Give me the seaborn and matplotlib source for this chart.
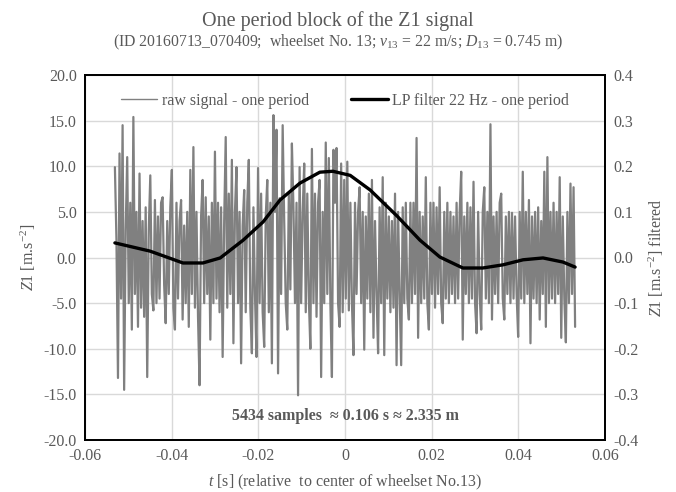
import numpy as np
import pandas as pd
import seaborn as sns
import matplotlib.pyplot as plt
from matplotlib.ticker import FuncFormatter, MultipleLocator

# raw Z1 samples (evenly spaced in time)
raw_t_start = -0.0531
raw_t_end = 0.0531
raw_values = [
    9.9, 2.0, -13.2, 11.4, -4.5, 14.5, -14.5, 3.0, 11.0, -5.0, 6.0, -7.9, 15.4, -4.0, 5.0, -7.6, 9.2, -5.5, 4.0, -6.5,
    5.5, -13.1, 3.0, 9.0, -4.0, -5.8, 6.3, -5.0, 4.5, -4.5, 6.0, 6.6, -3.0, -7.2, 4.0, -4.0, 5.5, 9.6, -5.5, -7.9,
    6.0, -4.5, 4.0, 6.3, -6.8, 3.5, -5.0, 5.0, -7.6, 9.6, -4.0, 12.1, -5.5, 5.0, -6.5, -14.0, 4.5, 8.5, -5.0, 6.6,
    -4.0, 4.5, -9.0, 6.0, -5.0, 11.6, -4.5, 6.0, -6.0, 5.5, -10.9, 4.0, 13.2, -5.5, 7.0, -4.0, 10.7, -9.4, 5.0, 9.9,
    -5.0, 5.0, -11.6, 3.5, 7.4, -6.0, 6.0, 10.7, -5.5, -10.5, 5.5, -4.0, -10.9, 9.8, -5.0, 7.0, -6.0, -9.8, 4.5, 8.5,
    -6.0, 6.0, -11.6, 15.6, 5.0, 14.0, -12.7, 6.5, -4.0, 14.5, 4.0, -5.0, -7.9, 7.0, -3.5, 12.5, 5.5, -5.0, 6.0, -15.1,
    9.9, -5.0, 5.0, 10.3, -6.0, 7.0, -4.5, -10.0, 11.9, -5.0, 7.0, -6.5, 6.0, 8.5, -13.1, 5.0, -5.0, 12.6, -4.0, 10.9,
    -5.0, -13.1, 11.8, 6.0, 12.0, -5.0, -7.6, 10.3, -6.0, 8.5, -4.5, 10.5, -5.8, 6.0, -5.0, -10.7, 6.0, -4.0, 5.0, 7.7,
    -5.0, 5.0, -10.1, 4.5, -4.5, 7.0, -6.0, 8.5, -8.8, 4.0, -4.0, -10.5, 5.5, -5.0, 8.8, -10.7, 6.0, -4.5, 4.5, -6.0,
    4.0, -5.5, 7.0, -11.8, 5.0, -4.0, -11.8, 5.5, -5.0, 6.0, -4.5, -6.8, 6.0, -5.0, 6.0, -4.0, 13.1, -8.8, 5.0, -5.0,
    4.5, -4.5, 8.8, -5.0, -7.9, 6.0, -4.0, 6.0, -5.5, 5.5, -4.0, 7.7, -5.0, -7.2, 5.0, -4.5, 6.0, -5.0, 5.0, -4.0,
    4.5, -5.0, 6.0, -4.5, 5.0, 9.4, -9.0, 4.5, -4.0, 6.0, -5.0, 5.5, -4.5, 8.3, -5.0, -8.3, 5.0, -4.0, -7.9, 5.0,
    7.7, -4.5, 5.0, -5.0, 14.6, -6.8, 4.5, -4.0, 5.0, -5.0, 6.0, 7.0, -4.5, -6.8, 4.5, -4.0, 5.0, -5.0, 4.9, -4.5,
    4.5, -4.0, -8.7, 5.0, -4.5, 9.4, -5.0, 5.0, -4.0, 6.3, -9.4, 4.5, -4.5, 5.0, -5.0, 5.5, -6.8, 4.0, -4.0, 9.4,
    -7.6, 11.0, -5.0, 5.0, -4.5, 6.0, -5.0, 5.0, -4.0, 8.8, -8.8, 4.5, -4.5, -9.3, 5.0, -5.0, 8.1, -4.0, 7.7, -7.6,
]

# low-pass filtered curve (right axis)
filt_t = [-0.0531, -0.045, -0.040, -0.0374, -0.0328, -0.0288, -0.0235, -0.0189, -0.015,
          -0.0104, -0.0058, -0.0028, 0.0012, 0.0058, 0.012, 0.0173, 0.0219, 0.0272,
          0.0318, 0.0365, 0.0411, 0.0457, 0.0503, 0.0531]
filt_values = [0.032, 0.014, -0.003, -0.012, -0.012, -0.001, 0.038, 0.078, 0.126,
               0.163, 0.187, 0.189, 0.180, 0.148, 0.091, 0.038, 0.001, -0.023,
               -0.023, -0.016, -0.005, -0.001, -0.010, -0.021]

raw = pd.DataFrame({'t': np.linspace(raw_t_start, raw_t_end, len(raw_values)), 'z': raw_values})
filt = pd.DataFrame({'t': filt_t, 'z': filt_values})

sns.set_theme(style='whitegrid')
plt.rcParams['font.family'] = ['Liberation Serif', 'DejaVu Serif']
plt.rcParams['mathtext.fontset'] = 'custom'
plt.rcParams['mathtext.rm'] = 'Liberation Serif'
plt.rcParams['mathtext.it'] = 'Liberation Serif:italic'
txt = '#595959'

fig = plt.figure(figsize=(6.76, 4.92), dpi=100)
ax = fig.add_axes([85 / 676, 52 / 492, 520 / 676, 365 / 492])
ax2 = ax.twinx()

sns.lineplot(data=raw, x='t', y='z', ax=ax, color='#808080', lw=1.6,
             estimator=None, sort=False, label='raw signal - one period', legend=False)
sns.lineplot(data=filt, x='t', y='z', ax=ax2, color='black', lw=2.4,
             estimator=None, sort=False, label='LP filter 22 Hz - one period', legend=False)

ax.set_xlim(-0.06, 0.06)
ax.set_ylim(-20, 20)
ax2.set_ylim(-0.4, 0.4)
ax.xaxis.set_major_locator(MultipleLocator(0.02))
ax.yaxis.set_major_locator(MultipleLocator(5))
ax2.yaxis.set_major_locator(MultipleLocator(0.1))
ax.xaxis.set_major_formatter(FuncFormatter(lambda v, p: '0' if abs(v) < 1e-9 else f'{v:.2f}'))
ax.yaxis.set_major_formatter(FuncFormatter(lambda v, p: f'{v:.1f}'))
ax2.yaxis.set_major_formatter(FuncFormatter(lambda v, p: f'{v:.1f}'))

ax.grid(True, color='#d9d9d9', lw=1)
ax2.grid(False)
for a in (ax, ax2):
    a.tick_params(length=0, labelsize=11.5, labelcolor=txt, pad=6)
    for s in a.spines.values():
        s.set_color('black')
        s.set_linewidth(1.3)

ax.set_xlabel(r'$\mathit{t}$ [s] (relative  to center of wheelset No.13)', fontsize=11.5, color=txt, labelpad=6)
ax.set_ylabel(r'$\mathit{Z1}$ [m.s$^{-2}$]', fontsize=11.5, color=txt, labelpad=4)
ax2.set_ylabel(r'$\mathit{Z1}$ [m.s$^{-2}$] filtered', fontsize=11.5, color=txt, labelpad=6)

ax.text(0.5, 0.066, '5434 samples  ≈ 0.106 s ≈ 2.335 m', transform=ax.transAxes,
        ha='center', va='center', fontsize=11.5, fontweight='bold', color=txt)

h1, l1 = ax.get_legend_handles_labels()
h2, l2 = ax2.get_legend_handles_labels()
leg = ax2.legend(h1 + h2, l1 + l2, loc='center', bbox_to_anchor=(0.5, 0.929), ncol=2,
                 frameon=False, fontsize=11.5, handlelength=2.3, columnspacing=2.6,
                 handletextpad=0.3)
leg.get_lines()[0].set_linewidth(1.0)
for t in leg.get_texts():
    t.set_color(txt)

fig.text(0.5, 0.957, 'One period block of the Z1 signal', ha='center', va='center',
         fontsize=14.5, color=txt)
fig.text(0.5, 0.914, r'(ID 20160713_070409;  wheelset No. 13; $\mathit{v_{13}}$ = 22 m/s; $\mathit{D_{13}}$ = 0.745 m)',
         ha='center', va='center', fontsize=11.3, color=txt)

fig.savefig('out.png', dpi=100)
